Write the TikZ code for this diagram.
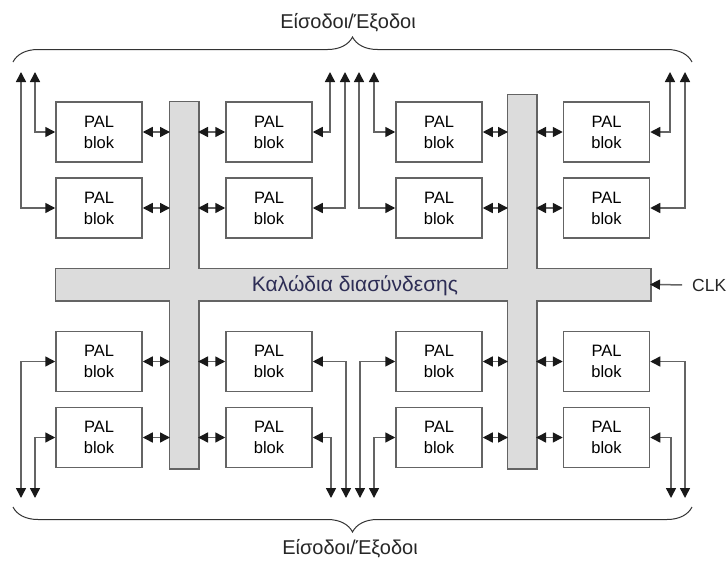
\documentclass[tikz,border=0pt]{standalone}
\usepackage{fontspec}
\setmainfont{Liberation Sans}
\usetikzlibrary{arrows.meta,decorations.pathreplacing}

\definecolor{edgegray}{RGB}{100,100,100}
\definecolor{busgray}{RGB}{220,220,220}
\definecolor{tipblack}{RGB}{25,25,25}
\definecolor{busblue}{RGB}{45,45,85}

\tikzset{
    iotip/.tip={Triangle[length=10pt,width=10pt,color=tipblack]},
    palblock/.style={draw=edgegray, line width=1.5pt, fill=white,
        minimum width=86pt, minimum height=60pt, inner sep=0pt,
        align=center, font=\fontsize{16.5}{21}\selectfont},
    busbar/.style={draw=edgegray, line width=3pt, inner sep=0pt, outer sep=0pt},
    wire/.style={draw=edgegray, line width=1.5pt},
    linkarrow/.style={wire, iotip-iotip},
    iolink/.style={wire, iotip-iotip},
    iolabel/.style={font=\fontsize{20}{24}\selectfont, text=black!85},
    bracket/.style={draw=black!80, line width=1pt, decorate,
        decoration={brace, amplitude=25pt}}
}

\begin{document}
\begin{tikzpicture}[x=1pt, y=-1pt]
    \useasboundingbox (0,0) rectangle (728,562);

    % interconnect cross: outline first, then the grey fill over the seams
    \node [busbar, minimum width=594pt, minimum height=31pt] (bus) at (353,284.5) {};
    \node [busbar, minimum width=28pt, minimum height=366pt] (bar1) at (184,285) {};
    \node [busbar, minimum width=28pt, minimum height=373pt] (bar2) at (522,281.5) {};
    \fill [busgray] (bus.south west) rectangle (bus.north east);
    \fill [busgray] (bar1.south west) rectangle (bar1.north east);
    \fill [busgray] (bar2.south west) rectangle (bar2.north east);
    \node [font=\fontsize{21}{24}\selectfont, text=busblue] (bustext) at (355,286) {Καλώδια διασύνδεσης};

    % PAL blocks, p<row><column>
    \node [palblock] (p11) at (99,132) {PAL\\blok};
    \node [palblock] (p12) at (269,132) {PAL\\blok};
    \node [palblock] (p13) at (439,132) {PAL\\blok};
    \node [palblock] (p14) at (606.5,132) {PAL\\blok};
    \node [palblock] (p21) at (99,208) {PAL\\blok};
    \node [palblock] (p22) at (269,208) {PAL\\blok};
    \node [palblock] (p23) at (439,208) {PAL\\blok};
    \node [palblock] (p24) at (606.5,208) {PAL\\blok};
    \node [palblock] (p31) at (99,361.5) {PAL\\blok};
    \node [palblock] (p32) at (269,361.5) {PAL\\blok};
    \node [palblock] (p33) at (439,361.5) {PAL\\blok};
    \node [palblock] (p34) at (606.5,361.5) {PAL\\blok};
    \node [palblock] (p41) at (99,437.5) {PAL\\blok};
    \node [palblock] (p42) at (269,437.5) {PAL\\blok};
    \node [palblock] (p43) at (439,437.5) {PAL\\blok};
    \node [palblock] (p44) at (606.5,437.5) {PAL\\blok};

    % block <-> interconnect
    \draw [linkarrow] (p11.east) -- (p11.east -| bar1.west);
    \draw [linkarrow] (p21.east) -- (p21.east -| bar1.west);
    \draw [linkarrow] (p31.east) -- (p31.east -| bar1.west);
    \draw [linkarrow] (p41.east) -- (p41.east -| bar1.west);
    \draw [linkarrow] (p12.west) -- (p12.west -| bar1.east);
    \draw [linkarrow] (p22.west) -- (p22.west -| bar1.east);
    \draw [linkarrow] (p32.west) -- (p32.west -| bar1.east);
    \draw [linkarrow] (p42.west) -- (p42.west -| bar1.east);
    \draw [linkarrow] (p13.east) -- (p13.east -| bar2.west);
    \draw [linkarrow] (p23.east) -- (p23.east -| bar2.west);
    \draw [linkarrow] (p33.east) -- (p33.east -| bar2.west);
    \draw [linkarrow] (p43.east) -- (p43.east -| bar2.west);
    \draw [linkarrow] (p14.west) -- (p14.west -| bar2.east);
    \draw [linkarrow] (p24.west) -- (p24.west -| bar2.east);
    \draw [linkarrow] (p34.west) -- (p34.west -| bar2.east);
    \draw [linkarrow] (p44.west) -- (p44.west -| bar2.east);

    % pin ends, top row
    \coordinate (u1) at (21,72);
    \coordinate (u2) at (35,72);
    \coordinate (u3) at (330,72);
    \coordinate (u4) at (345,72);
    \coordinate (u5) at (359,72);
    \coordinate (u6) at (374,72);
    \coordinate (u7) at (670,72);
    \coordinate (u8) at (685,72);
    % pin ends, bottom row
    \coordinate (d1) at (21,498);
    \coordinate (d2) at (35,498);
    \coordinate (d3) at (331,498);
    \coordinate (d4) at (346,498);
    \coordinate (d5) at (360,498);
    \coordinate (d6) at (374,498);
    \coordinate (d7) at (671,498);
    \coordinate (d8) at (685,498);

    \draw [iolink] (u1) |- (p21.west);
    \draw [iolink] (u2) |- (p11.west);
    \draw [iolink] (u3) |- (p12.east);
    \draw [iolink] (u4) |- (p22.east);
    \draw [iolink] (u5) |- (p23.west);
    \draw [iolink] (u6) |- (p13.west);
    \draw [iolink] (u7) |- (p14.east);
    \draw [iolink] (u8) |- (p24.east);
    \draw [iolink] (d1) |- (p31.west);
    \draw [iolink] (d2) |- (p41.west);
    \draw [iolink] (d3) |- (p42.east);
    \draw [iolink] (d4) |- (p32.east);
    \draw [iolink] (d5) |- (p33.west);
    \draw [iolink] (d6) |- (p43.west);
    \draw [iolink] (d7) |- (p44.east);
    \draw [iolink] (d8) |- (p34.east);

    % clock input
    \node [iolabel, font=\fontsize{17.5}{21}\selectfont, anchor=west, inner sep=0pt] (clk) at (692,285) {CLK};
    \draw [wire, -iotip, shorten <=10pt] (clk.west) -- (bus.east);

    % braces with the I/O captions
    \draw [bracket] (13,62) -- (692,62);
    \draw [bracket] (692,507) -- (13,507);
    \node [iolabel] (intop) at (348,23) {Είσοδοι/Έξοδοι};
    \node [iolabel] (inbottom) at (350,549) {Είσοδοι/Έξοδοι};
\end{tikzpicture}
\end{document}
